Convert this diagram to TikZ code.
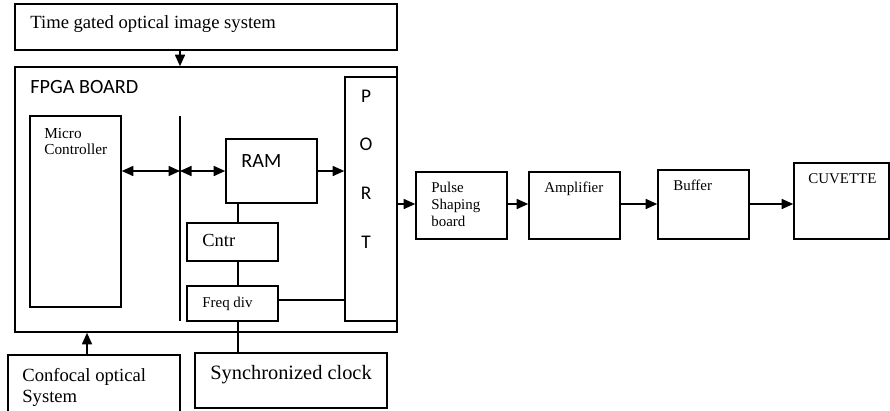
\documentclass[tikz,border=0pt]{standalone}
\usepackage{fontspec}
\setmainfont{Liberation Serif}
\newfontfamily\calfont{Carlito}
\usetikzlibrary{arrows.meta,positioning,fit}

\begin{document}
\begin{tikzpicture}[x=0.2mm,y=-0.2mm,
  blk/.style={draw,line width=0.9pt,inner sep=0pt},
  lbl/.style={anchor=base west,inner sep=0pt},
  ml/.style={anchor=north west,inner sep=0pt,align=left},
  arr/.style={line width=0.9pt,-{Triangle[length=2.3mm,width=2mm]}},
  darr/.style={line width=0.9pt,{Triangle[length=2.3mm,width=2mm]}-{Triangle[length=2.3mm,width=2mm]}},
  ln/.style={line width=0.9pt}]
 \useasboundingbox (0,0) rectangle (890,410);
 % ---- outer blocks ----
 \node[blk,fit={(15,4) (397,50)}] (tgo) {};
 \node[lbl,font=\fontsize{10.6}{12}\selectfont] at (30,28) {Time gated optical image system};
 \node[blk,fit={(15,67) (397,332)}] (fpga) {};
 \node[lbl,font=\calfont\fontsize{11.5}{13}\selectfont] at (30,93) {FPGA BOARD};
 \node[blk,fit={(8,355) (180,420)}] (conf) {};
 \node[ml,font=\fontsize{10.6}{12}\selectfont,text depth=0pt] at (22,368) {Confocal optical\\System};
 \node[blk,fit={(195,353) (387,408)}] (sync) {};
 \node[lbl,font=\fontsize{11.6}{13}\selectfont] at (210,379) {Synchronized clock};
 % ---- inside the board ----
 \node[blk,fit={(345,77) (397,321)}] (port) {};
 \foreach \c/\y in {P/102,O/150,R/199,T/248}
   \node[anchor=base,inner sep=0pt,font=\calfont\fontsize{11}{13}\selectfont] at (366,\y) {\c};
 \node[blk,fit={(30,116) (121,307)}] (mc) {};
 \node[ml,font=\fontsize{8.7}{9.1}\selectfont] at (44,128) {Micro\\Controller};
 \node[blk,fit={(226,139) (317,203)}] (ram) {};
 \node[lbl,font=\calfont\fontsize{11.5}{13}\selectfont] at (241,167) {RAM};
 \node[blk,fit={(187,223) (278,261)}] (cntr) {};
 \node[lbl,font=\fontsize{10.5}{12}\selectfont] at (202,246) {Cntr};
 \node[blk,fit={(187,286) (278,321)}] (fd) {};
 \node[lbl,font=\fontsize{8.5}{10}\selectfont] at (202,307) {Freq div};
 % ---- signal chain ----
 \node[blk,fit={(416,172) (507,239)}] (pulse) {};
 \node[ml,font=\fontsize{8.5}{9.5}\selectfont] at (431,182) {Pulse\\Shaping\\board};
 \node[blk,fit={(529,172) (620,239)}] (amp) {};
 \node[lbl,font=\fontsize{8.5}{10}\selectfont] at (544,192) {Amplifier};
 \node[blk,fit={(658,170) (749,239)}] (buf) {};
 \node[lbl,font=\fontsize{8.5}{10}\selectfont] at (673,190) {Buffer};
 \node[blk,fit={(794,163) (889,239)}] (cuv) {};
 \node[lbl,font=\fontsize{8.5}{10}\selectfont] at (808,183) {CUVETTE};
 % ---- bus and links ----
 \coordinate (busT) at (180,116);
 \coordinate (busB) at (180,321);
 \coordinate (bus) at (180,171);
 \coordinate (vx) at (238,0);
 \coordinate (cx) at (87,0);
 \coordinate (sig) at (0,204);
 \draw[ln] (busT)--(busB);
 \draw[arr] (tgo.south -| bus)--(fpga.north -| bus);
 \draw[arr] (conf.north -| cx)--(fpga.south -| cx);
 \draw[darr] (mc.east |- bus)--(bus);
 \draw[darr] (bus)--(ram.west |- bus);
 \draw[arr] (ram.east |- bus)--(port.west |- bus);
 \draw[ln] (ram.south -| vx)--(cntr.north -| vx);
 \draw[ln] (cntr.south -| vx)--(fd.north -| vx);
 \draw[ln] (fd.south -| vx)--(sync.north -| vx);
 \draw[ln] (fd.east |- 0,300)--(port.west |- 0,300);
 \draw[arr] (port.east |- sig)--(pulse.west |- sig);
 \draw[arr] (pulse.east |- sig)--(amp.west |- sig);
 \draw[arr] (amp.east |- sig)--(buf.west |- sig);
 \draw[arr] (buf.east |- sig)--(cuv.west |- sig);
\end{tikzpicture}
\end{document}
